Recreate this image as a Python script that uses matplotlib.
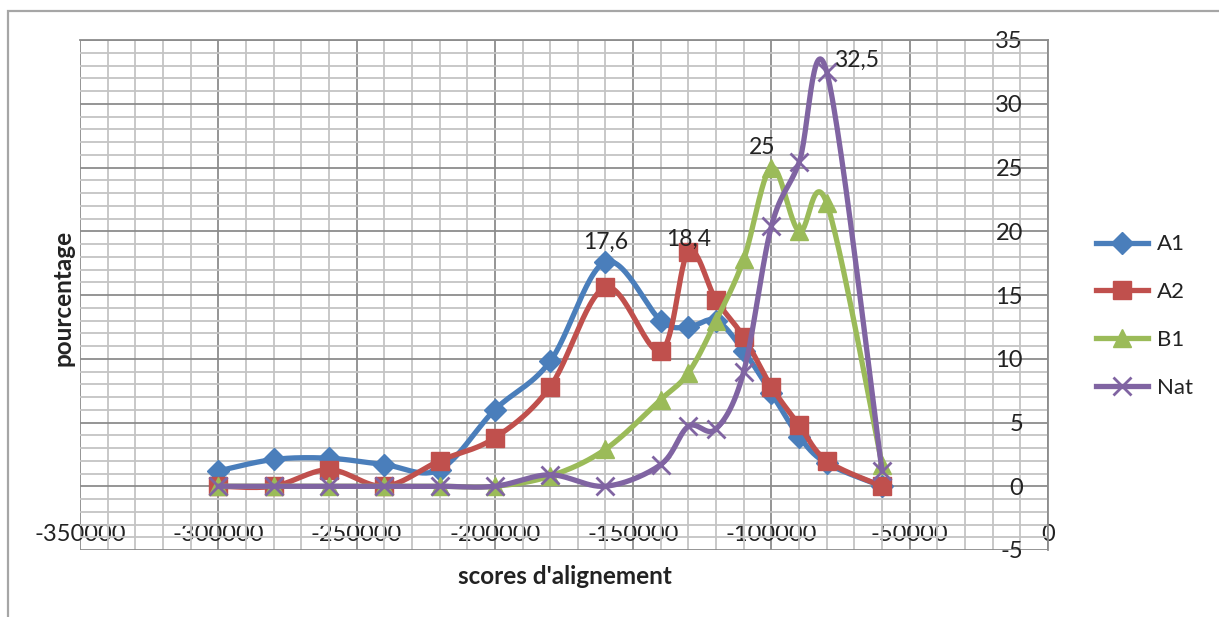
import numpy as np
import matplotlib
matplotlib.use("Agg")
import matplotlib.pyplot as plt
from matplotlib.lines import Line2D
from matplotlib.patches import Rectangle

plt.rcParams['font.family'] = ['Lato', 'DejaVu Sans']
plt.rcParams['axes.unicode_minus'] = False

# scores d'alignement
x = [-300000, -280000, -260000, -240000, -220000, -200000, -180000, -160000,
     -140000, -130000, -120000, -110000, -100000, -90000, -80000, -60000]

a1 = [1.2, 2.1, 2.2, 1.7, 1.3, 6.0, 9.8, 17.6, 13.0, 12.5, 13.0, 10.6, 7.3, 3.9, 1.8, 0.0]
a2 = [0.0, 0.0, 1.3, 0.0, 2.0, 3.8, 7.8, 15.6, 10.6, 18.4, 14.6, 11.7, 7.8, 4.8, 2.0, 0.0]
b1 = [0.0, 0.0, 0.0, 0.0, 0.0, 0.0, 0.8, 2.9, 6.8, 8.9, 13.0, 17.8, 25.0, 20.0, 22.2, 1.7]
nat = [0.0, 0.0, 0.0, 0.0, 0.0, 0.0, 0.9, 0.0, 1.7, 4.7, 4.5, 9.0, 20.4, 25.4, 32.5, 1.2]

names = ['A1', 'A2', 'B1', 'Nat']
colors = ['#4a7ebb', '#c0504d', '#9bbb59', '#8064a2']
markers = ['D', 's', '^', 'x']
msizes = [11.5, 13, 13, 13]


def smooth(xs, ys, n=30):
    # bezier smoothing like the spreadsheet one (catmull-rom control points)
    p = np.column_stack([xs, ys]).astype(float)
    p = np.vstack([p[0], p, p[-1]])
    out = []
    for i in range(1, len(p) - 2):
        p0, p1, p2, p3 = p[i - 1], p[i], p[i + 1], p[i + 2]
        c1 = p1 + (p2 - p0) / 6.0
        c2 = p2 - (p3 - p1) / 6.0
        t = np.linspace(0, 1, n)[:, None]
        seg = ((1 - t) ** 3 * p1 + 3 * (1 - t) ** 2 * t * c1
               + 3 * (1 - t) * t ** 2 * c2 + t ** 3 * p2)
        out.append(seg if i == 1 else seg[1:])
    out = np.vstack(out)
    return out[:, 0], out[:, 1]


fig = plt.figure(figsize=(12.19, 6.17), dpi=100)
fig.patches.append(Rectangle((8 / 1219, -0.1), 1.2, (617 - 11) / 617 + 0.1,
                             transform=fig.transFigure, fill=False,
                             edgecolor='#a6a6a6', lw=1.6, zorder=0))

ax = fig.add_axes([80 / 1219, (617 - 550) / 617, 968 / 1219, 510 / 617])
ax.set_xlim(-350000, 0)
ax.set_ylim(-5, 35)

ax.set_xticks(np.arange(-350000, 1, 50000))
ax.set_xticks(np.arange(-350000, 1, 10000), minor=True)
ax.set_yticks(np.arange(-5, 36, 5))
ax.set_yticks(np.arange(-5, 36, 1), minor=True)
ax.grid(which='major', color='#8c8c8c', lw=1.3)
ax.grid(which='minor', color='#c4c4c4', lw=1.3)
ax.set_axisbelow(True)

for s in ax.spines.values():
    s.set_color('#8c8c8c')
    s.set_linewidth(1.3)
ax.spines['left'].set_position(('data', 0))
ax.spines['bottom'].set_position(('data', 0))
ax.spines['left'].set_visible(False)
ax.spines['bottom'].set_visible(False)

ax.tick_params(which='both', length=0)
ax.tick_params(axis='x', pad=27, labelsize=17, labelcolor='#222222')
ax.tick_params(axis='y', pad=18, labelsize=17, labelcolor='#222222')

for ys, nm, c, m, ms in zip([a1, a2, b1, nat], names, colors, markers, msizes):
    sx, sy = smooth(x, ys)
    ax.plot(sx, sy, color=c, lw=3.8, solid_capstyle='round', zorder=3)
    ax.plot(x, ys, ls='none', marker=m, ms=ms, color=c, mec=c,
            mew=2 if m == 'x' else 1, zorder=3)

ax.annotate('17,6', (x[7], a1[7]), xytext=(0, 20), textcoords='offset pixels',
            ha='center', va='center', fontsize=16.5, color='#222222')
ax.annotate('18,4', (x[9], a2[9]), xytext=(0, 12), textcoords='offset pixels',
            ha='center', va='center', fontsize=16.5, color='#222222')
ax.annotate('25', (x[12], b1[12]), xytext=(-9, 20), textcoords='offset pixels',
            ha='center', va='center', fontsize=16.5, color='#222222')
ax.annotate('32,5', (x[14], nat[14]), xytext=(30, 12), textcoords='offset pixels',
            ha='center', va='center', fontsize=16.5, color='#222222')

fig.text(63 / 1219, 1 - 298 / 617, 'pourcentage', rotation=90, ha='center',
         va='center', fontsize=17.5, fontweight='bold', color='#222222')
fig.text(565 / 1219, 1 - 576 / 617, "scores d'alignement", ha='center',
         va='center', fontsize=17.5, fontweight='bold', color='#222222')

handles = [Line2D([], [], color=c, lw=3.8, marker=m, ms=ms, mec=c,
                  mew=2 if m == 'x' else 1)
           for c, m, ms in zip(colors, markers, msizes)]
fig.legend(handles, names, loc='center left', bbox_to_anchor=(1076 / 1219, 1 - 316 / 617),
           frameon=False, fontsize=16, handlelength=2.35, labelspacing=1.25,
           handletextpad=0.4, labelcolor='#222222')

fig.savefig('out.png', dpi=100)
